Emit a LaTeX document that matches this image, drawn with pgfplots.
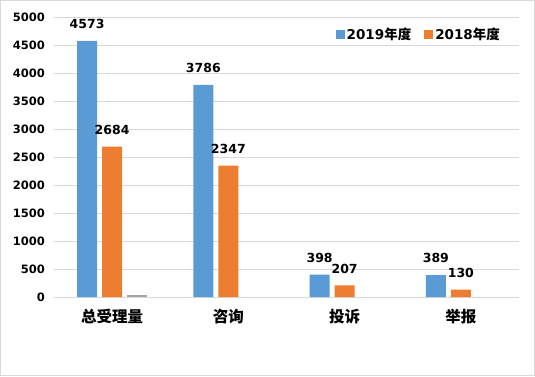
\documentclass[border=0pt]{standalone}
\usepackage{fontspec}
\setmainfont{DejaVu Sans}
\newfontfamily\cjk{Noto Sans CJK SC}
\usepackage{pgfplots}
\pgfplotsset{compat=1.18}
\definecolor{c19}{HTML}{5B9BD5}
\definecolor{c18}{HTML}{ED7D31}
\definecolor{c3}{HTML}{A5A5A5}
\definecolor{gridc}{HTML}{D9D9D9}
\begin{document}
\begin{tikzpicture}[x=1pt,y=1pt]
\useasboundingbox (0,0) rectangle (535,376);
\draw[gridc] (0.5,0.5) rectangle (534.5,375.5);
\begin{axis}[
  at={(54pt,79pt)}, anchor=south west,
  scale only axis, width=465pt, height=280pt,
  xmin=-0.5, xmax=3.5, ymin=0, ymax=5000,
  ytick={0,500,...,5000},
  xtick={0,1,2,3}, xticklabels={总受理量,咨询,投诉,举报},
  major tick length=0pt,
  axis line style={draw=none},
  ymajorgrids, grid style={gridc, line width=0.8pt},
  /pgf/number format/assume math mode=true,
  /pgf/number format/1000 sep={},
  yticklabel style={font=\bfseries\fontsize{11.5}{12}\selectfont, inner sep=0pt, xshift=-9pt},
  xticklabel style={font=\cjk\bfseries\fontsize{15.5}{15.5}\selectfont, inner sep=0pt, yshift=-12pt},
  legend style={at={(axis description cs:0.97,0.975)}, anchor=north east, draw=none, fill=none,
    legend columns=2, font=\bfseries\fontsize{13.5}{14}\selectfont,
    /tikz/every even column/.append style={column sep=11pt}},
  legend image code/.code={\fill[#1] (0pt,-4.5pt) rectangle (9pt,4.5pt);},
  every node near coord/.append style={font=\bfseries\fontsize{12.5}{13}\selectfont, inner sep=0pt, yshift=12pt},
]
\addplot[ybar, bar width=20pt, bar shift=-25pt, fill=c19, draw=none, nodes near coords,
  every node near coord/.append style={xshift=-25pt}]
  coordinates {(0,4573) (1,3786) (2,398) (3,389)};
\addlegendentry{2019{\cjk\bfseries 年度}}
\addplot[ybar, bar width=20pt, bar shift=0pt, fill=c18, draw=none, nodes near coords]
  coordinates {(0,2684) (1,2347) (2,207) (3,130)};
\addlegendentry{2018{\cjk\bfseries 年度}}
\addplot[ybar, bar width=20pt, bar shift=25pt, fill=c3, draw=none, forget plot]
  coordinates {(0,30)};
\end{axis}
\end{tikzpicture}
\end{document}
